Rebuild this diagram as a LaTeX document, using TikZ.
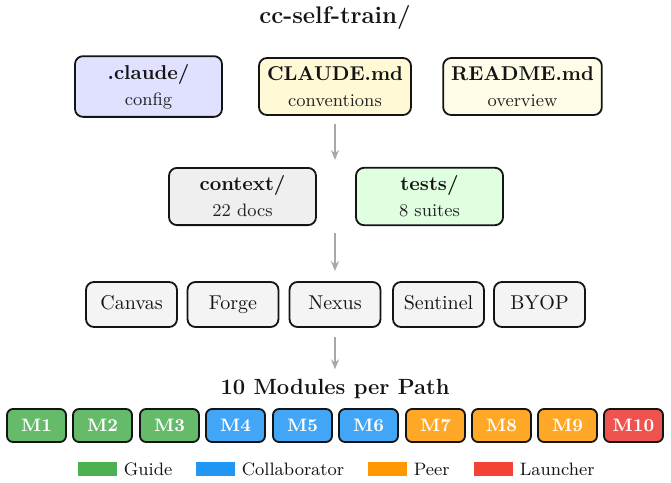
\documentclass[tikz,border=0pt]{standalone}
\usetikzlibrary{arrows.meta,positioning}
\definecolor{Ink}{HTML}{141414}
\definecolor{SubInk}{HTML}{222222}
\definecolor{ArrowGray}{HTML}{A8A8A8}
\definecolor{ConfigFill}{HTML}{E0E0FF}
\definecolor{ConvFill}{HTML}{FFF9D6}
\definecolor{ReadFill}{HTML}{FFFDE8}
\definecolor{CtxFill}{HTML}{EFEFEF}
\definecolor{TestFill}{HTML}{E0FFE0}
\definecolor{PathFill}{HTML}{F4F4F4}
\definecolor{GuideMod}{HTML}{66BB6A}
\definecolor{CollabMod}{HTML}{42A5F5}
\definecolor{PeerMod}{HTML}{FFA726}
\definecolor{LaunchMod}{HTML}{EF5350}
\definecolor{GuideKey}{HTML}{4CAF50}
\definecolor{CollabKey}{HTML}{2196F3}
\definecolor{PeerKey}{HTML}{FF9800}
\definecolor{LaunchKey}{HTML}{F44336}
\tikzset{
  filebox/.style={draw=Ink,line width=0.9pt,rounded corners=4pt,align=center,
    minimum width=73.5pt,minimum height=28.5pt,inner sep=4pt,text=Ink},
  pathbox/.style={draw=Ink,line width=0.9pt,rounded corners=4pt,fill=PathFill,
    minimum width=45.5pt,minimum height=22.5pt,text=Ink,
    text height=1.6ex,text depth=.45ex},
  modbox/.style={draw=Ink,line width=0.9pt,rounded corners=3pt,
    minimum width=29.5pt,minimum height=16.5pt,inner sep=0pt,
    text=white,font=\small\bfseries},
  keyswatch/.style={minimum width=19.5pt,minimum height=7pt,inner sep=0pt},
  keytext/.style={inner sep=0pt,font=\small,text=Ink},
  flow/.style={ArrowGray,line width=0.9pt,-{Stealth[length=5pt,width=4pt]}},
}
\newcommand{\FileBox}[6]{%
  \node[filebox,fill=#4] (#1) at (#2,#3) {\textbf{#5}\\[1pt]{\small\color{SubInk}#6}};%
}
\newcommand{\ModBox}[3]{%
  \node[modbox,fill=#3] (mod#1) at (#2,425.5) {M#1};%
}
\begin{document}
\begin{tikzpicture}[x=0.5pt,y=-0.5pt]
\useasboundingbox (0,0) rectangle (671,483);
\node[font=\large\bfseries,text=Ink] (root) at (335,17) {cc-self-train/};
% top level files
\FileBox{claudedir}{148.5}{86.5}{ConfigFill}{.claude/}{config}
\FileBox{claudemd}{335}{86.5}{ConvFill}{CLAUDE.md}{conventions}
\FileBox{readme}{522.5}{86.5}{ReadFill}{README.md}{overview}
% shared material
\FileBox{context}{242.5}{196.5}{CtxFill}{context/}{22 docs}
\FileBox{tests}{429.5}{196.5}{TestFill}{tests/}{8 suites}
\coordinate (splitA) at (335,168);
\coordinate (splitB) at (335,225);
% project paths
\foreach \x/\n in {131.5/Canvas,233/Forge,335/Nexus,438.5/Sentinel,539.5/BYOP} {
  \node[pathbox] (\n) at (\x,304.5) {\n};
}
\node[font=\fontsize{11}{13}\selectfont\bfseries,text=Ink,inner sep=0pt] (modtitle) at (335,388.5) {10 Modules per Path};
\draw[flow,shorten <=4pt,shorten >=4pt] (claudemd) -- (splitA);
\draw[flow,shorten <=4pt,shorten >=5pt] (splitB) -- (Nexus);
\draw[flow,shorten <=4.5pt,shorten >=4.5pt] (Nexus) -- (modtitle);
% modules
\ModBox{1}{36.5}{GuideMod}
\ModBox{2}{102.5}{GuideMod}
\ModBox{3}{169.5}{GuideMod}
\ModBox{4}{235.5}{CollabMod}
\ModBox{5}{302.5}{CollabMod}
\ModBox{6}{368.5}{CollabMod}
\ModBox{7}{435.5}{PeerMod}
\ModBox{8}{501.5}{PeerMod}
\ModBox{9}{567.5}{PeerMod}
\ModBox{10}{633.5}{LaunchMod}
% legend
\foreach \x/\c/\t in {97.5/GuideKey/Guide,215.5/CollabKey/Collaborator,387.5/PeerKey/Peer,493.5/LaunchKey/Launcher} {
  \node[keyswatch,fill=\c] (key\t) at (\x,469) {};
  \node[keytext,right=3pt of key\t] (lbl\t) {\t};
}
\end{tikzpicture}
\end{document}
